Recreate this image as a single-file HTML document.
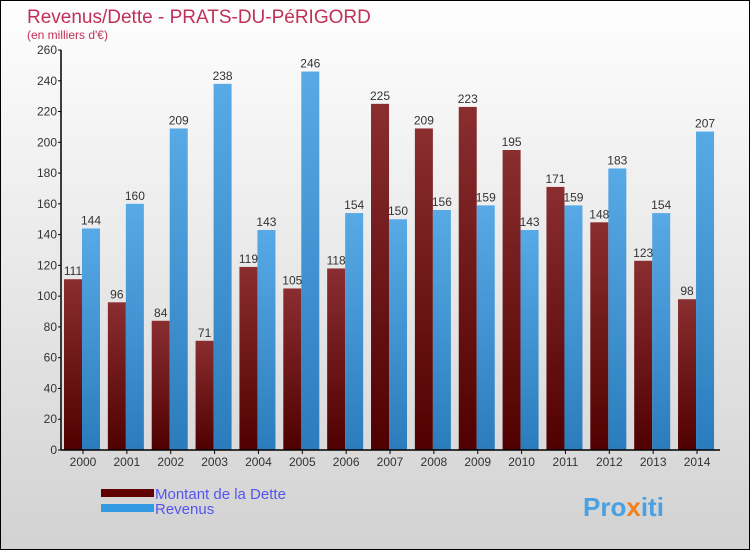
<!DOCTYPE html>
<html><head><meta charset="utf-8"><style>
body{margin:0;}
#c{width:750px;height:550px;position:relative;box-sizing:border-box;border:1px solid #000;background:linear-gradient(#fefefe,#d2d2d2);font-family:"Liberation Sans","DejaVu Sans",sans-serif;overflow:hidden}
</style></head><body>
<div id="c">
<svg id="s" width="750" height="550" style="position:absolute;left:-1px;top:-1px">
<defs>
<linearGradient id="gd" x1="0" y1="0" x2="0" y2="1"><stop offset="0" stop-color="#8a2e30"/><stop offset="1" stop-color="#500000"/></linearGradient>
<linearGradient id="gr" x1="0" y1="0" x2="0" y2="1"><stop offset="0" stop-color="#58aae6"/><stop offset="1" stop-color="#2a7cbc"/></linearGradient>
</defs>
<text x="27" y="23" font-size="19" fill="#c0305a">Revenus/Dette - PRATS-DU-PéRIGORD</text>
<text x="27" y="39" font-size="12" fill="#c0305a">(en milliers d'€)</text>
<g id="bars"></g>
<g id="axes"></g>
<rect x="101" y="489" width="53" height="8" fill="#600000"/>
<rect x="101" y="504" width="53" height="8" fill="#3399e0"/>
<text x="155" y="499" font-size="15" fill="#5555ee">Montant de la Dette</text>
<text x="155" y="514" font-size="15" fill="#5555ee">Revenus</text>
<text x="583" y="516" font-size="26" font-weight="bold" fill="#4aa0e0">Pro<tspan fill="#f08020">x</tspan>iti</text>
</svg>
</div>
<script>
const years=["2000","2001","2002","2003","2004","2005","2006","2007","2008","2009","2010","2011","2012","2013","2014"];
const dette=[111,96,84,71,119,105,118,225,209,223,195,171,148,123,98];
const revenus=[144,160,209,238,143,246,154,150,156,159,143,159,183,154,207];
const yTicks=[0,20,40,60,80,100,120,140,160,180,200,220,240,260];
const NS="http://www.w3.org/2000/svg";
const y0=450,yTop=50,yMax=260,x0=61,step=43.86,firstC=83,bw=18;
function ys(v){return y0-(v/yMax)*(y0-yTop);}
function xc(i){return firstC+i*step;}
function mk(t,a,p){const e=document.createElementNS(NS,t);for(const k in a)e.setAttribute(k,a[k]);p.appendChild(e);return e;}
const bars=document.getElementById('bars'),axes=document.getElementById('axes');
years.forEach((yr,i)=>{
 const c=xc(i);
 const d=mk('rect',{x:c-19,y:ys(dette[i]),width:bw,height:y0-ys(dette[i]),fill:'url(#gd)'},bars);
 
 
 const r=mk('rect',{x:c-1,y:ys(revenus[i]),width:bw,height:y0-ys(revenus[i]),fill:'url(#gr)'},bars);
 
 
 const t1=mk('text',{x:c-10,y:ys(dette[i])-4,'font-size':12,fill:'#333','text-anchor':'middle'},bars);t1.textContent=dette[i];
 
 
 const t2=mk('text',{x:c+8,y:ys(revenus[i])-4,'font-size':12,fill:'#333','text-anchor':'middle'},bars);t2.textContent=revenus[i];
 
 
 const xl=mk('text',{x:c,y:466,'font-size':12,fill:'#333','text-anchor':'middle'},axes);xl.textContent=yr;
 
 
 mk('line',{x1:c,x2:c,y1:450,y2:454,stroke:'#000'},axes);
});
yTicks.forEach(v=>{
 const y=ys(v);
 mk('line',{x1:x0-3,x2:x0,y1:y,y2:y,stroke:'#000'},axes);
 const t=mk('text',{x:x0-4,y:y+4,'font-size':12,fill:'#333','text-anchor':'end'},axes);t.textContent=v;
 
 
});
const ya=mk('line',{x1:x0,x2:x0,y1:yTop,y2:y0,stroke:'#000','stroke-width':1.5},axes);


const xa=mk('line',{x1:x0,x2:720,y1:y0,y2:y0,stroke:'#000','stroke-width':1.5},axes);


</script>
</body></html>
